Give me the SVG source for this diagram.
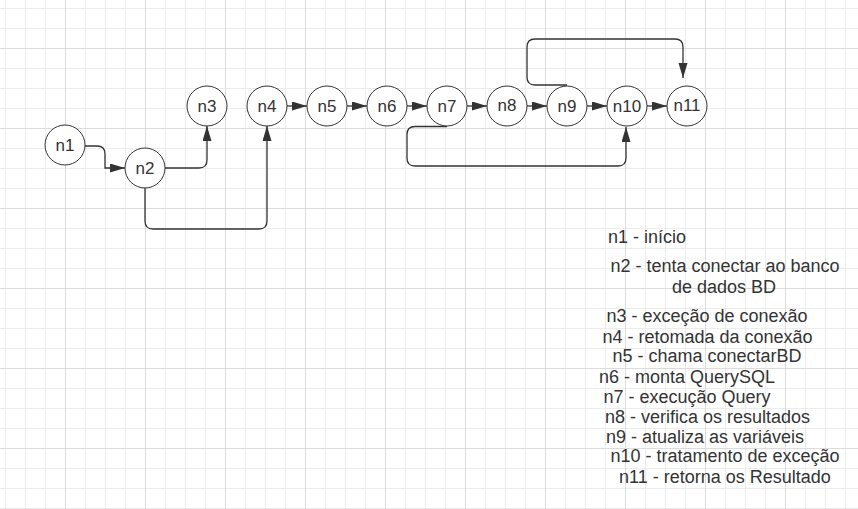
<svg xmlns="http://www.w3.org/2000/svg" width="858" height="509" viewBox="0 0 858 509">
  <defs>
    <!-- drawing-board grid: thin lines every 20px, heavier every 80px -->
    <pattern id="grid" x="-15" y="-32" width="80" height="80" patternUnits="userSpaceOnUse">
      <rect x="0" y="0" width="80" height="80" fill="#ffffff"/>
      <rect x="20" y="0" width="1" height="80" fill="#ececec"/>
      <rect x="40" y="0" width="1" height="80" fill="#ececec"/>
      <rect x="60" y="0" width="1" height="80" fill="#ececec"/>
      <rect x="0" y="20" width="80" height="1" fill="#ececec"/>
      <rect x="0" y="40" width="80" height="1" fill="#ececec"/>
      <rect x="0" y="60" width="80" height="1" fill="#ececec"/>
      <rect x="0" y="0" width="1" height="80" fill="#dcdcdc"/>
      <rect x="0" y="0" width="80" height="1" fill="#dcdcdc"/>
    </pattern>
    <marker id="arrow" markerUnits="userSpaceOnUse" markerWidth="16" markerHeight="10" refX="15" refY="4.5" orient="auto">
      <path d="M0,0 L15,4.5 L0,9 z" fill="#333333"/>
    </marker>
  </defs>
  <style>
    .node circle { fill: #ffffff; stroke: #333333; stroke-width: 1; }
    .node text { font-family: "Liberation Sans", Arial, sans-serif; font-size: 17px; fill: #333333; text-anchor: middle; }
    .edge { fill: none; stroke: #333333; stroke-width: 1.3; marker-end: url(#arrow); }
    .legend text { font-family: "Liberation Sans", Arial, sans-serif; font-size: 18px; fill: #333333; text-anchor: middle; }
  </style>

  <rect x="0" y="0" width="858" height="509" fill="url(#grid)"/>

  <!-- connectors -->
  <g id="connectors">
    <path class="edge" d="M85,146 H97 Q105,146 105,154 V168 H125"/>
    <path class="edge" d="M165,168 H199 Q207,168 207,160 V126"/>
    <path class="edge" d="M145,188 V221 Q145,229 153,229 H259 Q267,229 267,221 V126"/>
    <path class="edge" d="M287,106 H307"/>
    <path class="edge" d="M347,106 H367"/>
    <path class="edge" d="M407,106 H427"/>
    <path class="edge" d="M467,106 H487"/>
    <path class="edge" d="M527,106 H547"/>
    <path class="edge" d="M587,106 H607"/>
    <path class="edge" d="M647,106 H667"/>
    <path class="edge" d="M567,85 H535 Q527,85 527,77 V47 Q527,39 535,39 H675 Q683,39 683,47 V78"/>
    <path class="edge" d="M447,126.5 H415 Q407,126.5 407,134.5 V158 Q407,166 415,166 H618 Q626,166 626,158 V127"/>
  </g>

  <!-- nodes -->
  <g id="n1" class="node"><circle cx="65" cy="145" r="20"/><text x="65" y="151">n1</text></g>
  <g id="n2" class="node"><circle cx="145" cy="168" r="20"/><text x="145" y="174">n2</text></g>
  <g id="n3" class="node"><circle cx="207" cy="106" r="20"/><text x="207" y="112">n3</text></g>
  <g id="n4" class="node"><circle cx="267" cy="106" r="20"/><text x="267" y="112">n4</text></g>
  <g id="n5" class="node"><circle cx="327" cy="106" r="20"/><text x="327" y="112">n5</text></g>
  <g id="n6" class="node"><circle cx="387" cy="106" r="20"/><text x="387" y="112">n6</text></g>
  <g id="n7" class="node"><circle cx="447" cy="106" r="20"/><text x="447" y="112">n7</text></g>
  <g id="n8" class="node"><circle cx="507" cy="106" r="20"/><text x="507" y="111">n8</text></g>
  <g id="n9" class="node"><circle cx="567" cy="106" r="20"/><text x="567" y="112">n9</text></g>
  <g id="n10" class="node"><circle cx="627" cy="106" r="20"/><text x="627" y="112">n10</text></g>
  <g id="n11" class="node"><circle cx="687" cy="106" r="20"/><text x="687" y="111">n11</text></g>

  <!-- legend -->
  <g id="legend" class="legend">
    <text x="647" y="243">n1 - início</text>
    <text x="725" y="272">n2 - tenta conectar ao banco</text>
    <text x="724" y="293">de dados BD</text>
    <text x="707" y="322">n3 - exceção de conexão</text>
    <text x="707.5" y="343">n4 - retomada da conexão</text>
    <text x="707" y="362">n5 - chama conectarBD</text>
    <text x="687" y="383">n6 - monta QuerySQL</text>
    <text x="687" y="403">n7 - execução Query</text>
    <text x="707.5" y="423">n8 - verifica os resultados</text>
    <text x="705" y="443">n9 - atualiza as variáveis</text>
    <text x="725" y="462">n10 - tratamento de exceção</text>
    <text x="725" y="483">n11 - retorna os Resultado</text>
  </g>
</svg>
